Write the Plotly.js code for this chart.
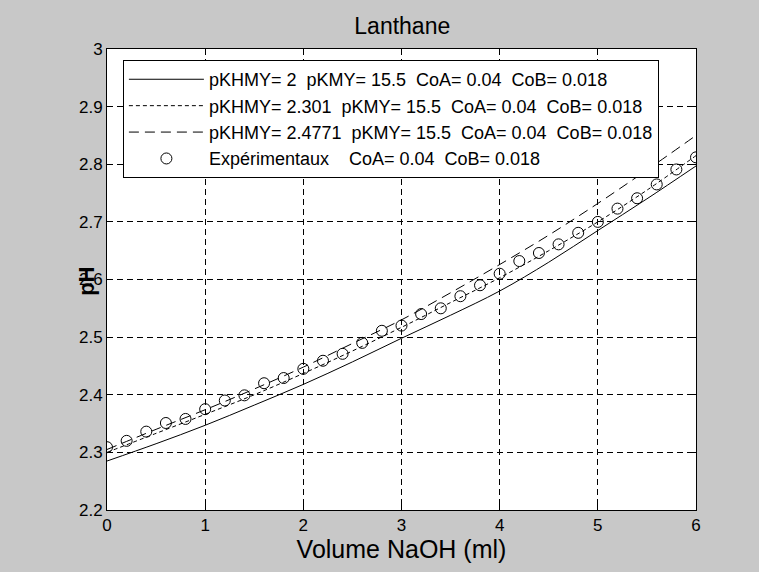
<!DOCTYPE html>
<html>
<head>
<meta charset="utf-8">
<script src="https://cdn.plot.ly/plotly-3.0.1.min.js"></script>
<style>html,body{margin:0;padding:0;background:#c8c8c8;}#chart{width:759px;height:572px;}</style>
</head>
<body>
<div id="chart"></div>
<script>
// Model curves (sampled every 0.5 ml)
const xModel = [0, 0.5, 1, 1.5, 2, 2.5, 3, 3.5, 4, 4.5, 5, 5.5, 6];
const pH_pKHMY_2 = [2.285, 2.315, 2.347, 2.382, 2.418, 2.457, 2.498, 2.538, 2.580, 2.630, 2.685, 2.740, 2.797];
const pH_pKHMY_2301 = [2.300, 2.333, 2.366, 2.400, 2.437, 2.476, 2.517, 2.560, 2.603, 2.650, 2.700, 2.755, 2.815];
const pH_pKHMY_24771 = [2.305, 2.340, 2.374, 2.410, 2.448, 2.489, 2.530, 2.577, 2.626, 2.677, 2.732, 2.790, 2.850];

// Experimental points
const xExp = [0, 0.2, 0.4, 0.6, 0.8, 1.0, 1.2, 1.4, 1.6, 1.8, 2.0, 2.2, 2.4, 2.6, 2.8, 3.0,
              3.2, 3.4, 3.6, 3.8, 4.0, 4.2, 4.4, 4.6, 4.8, 5.0, 5.2, 5.4, 5.6, 5.8, 6.0];
const pHExp = [2.309, 2.320, 2.336, 2.351, 2.358, 2.375, 2.390, 2.399, 2.420, 2.429, 2.445,
               2.459, 2.471, 2.490, 2.511, 2.520, 2.540, 2.550, 2.571, 2.590, 2.610, 2.632,
               2.646, 2.661, 2.681, 2.700, 2.723, 2.741, 2.765, 2.791, 2.812];

const names = [
  "pKHMY= 2  pKMY= 15.5  CoA= 0.04  CoB= 0.018",
  "pKHMY= 2.301  pKMY= 15.5  CoA= 0.04  CoB= 0.018",
  "pKHMY= 2.4771  pKMY= 15.5  CoA= 0.04  CoB= 0.018",
  "Expérimentaux    CoA= 0.04  CoB= 0.018"
].map(s => s.replace(/ /g, "\u00a0"));

const xTicks = [0, 1, 2, 3, 4, 5, 6];
const yTicks = [2.2, 2.3, 2.4, 2.5, 2.6, 2.7, 2.8, 2.9, 3];

const FONT = "Liberation Sans, Arial, Helvetica, sans-serif";

const traces = [
  {x: xModel, y: pH_pKHMY_2, mode: "lines", name: names[0],
   line: {color: "black", width: 1, shape: "spline"}},
  {x: xModel, y: pH_pKHMY_2301, mode: "lines", name: names[1],
   line: {color: "black", width: 1, dash: "4px,3px", shape: "spline"}},
  {x: xModel, y: pH_pKHMY_24771, mode: "lines", name: names[2],
   line: {color: "black", width: 1, dash: "10px,6px", shape: "spline"}},
  {x: xExp, y: pHExp, mode: "markers", name: names[3],
   marker: {symbol: "circle-open", size: 11, color: "black", line: {color: "black", width: 1}}}
];

const axisCommon = {
  showline: true, linecolor: "black", linewidth: 1, mirror: "ticks",
  ticks: "inside", ticklen: 5, tickcolor: "black",
  showgrid: true, gridcolor: "black", gridwidth: 1, griddash: "6px,4px",
  zeroline: false, tickfont: {family: FONT, size: 17, color: "black"}
};

const layout = {
  width: 759, height: 572,
  paper_bgcolor: "#c8c8c8", plot_bgcolor: "white",
  margin: {l: 107, r: 63, t: 49, b: 62},
  title: {text: "Lanthane", font: {family: FONT, size: 23, color: "black"}, x: 0.53, xanchor: "center", y: 0.955, yanchor: "middle"},
  xaxis: Object.assign({}, axisCommon, {
    range: [0, 6], tickvals: xTicks, ticktext: xTicks.map(String),
    title: {text: "Volume NaOH (ml)", font: {family: FONT, size: 25, color: "black"}, standoff: 2}
  }),
  yaxis: Object.assign({}, axisCommon, {
    range: [2.2, 3], tickvals: yTicks, ticktext: yTicks.map(String)
  }),
  annotations: [{
    text: "<b>pH</b>", xref: "paper", yref: "paper", x: -0.034, y: 0.497,
    xanchor: "center", yanchor: "middle", textangle: -90, showarrow: false,
    font: {family: FONT, size: 22, color: "black"}
  }],
  showlegend: true,
  legend: {
    x: 0.027, y: 0.976, xanchor: "left", yanchor: "top",
    bgcolor: "white", bordercolor: "black", borderwidth: 1,
    font: {family: FONT, size: 18, color: "black"},
    tracegroupgap: 0, itemwidth: 75
  }
};

Plotly.newPlot("chart", traces, layout, {displayModeBar: false, staticPlot: true});
</script>
</body>
</html>
